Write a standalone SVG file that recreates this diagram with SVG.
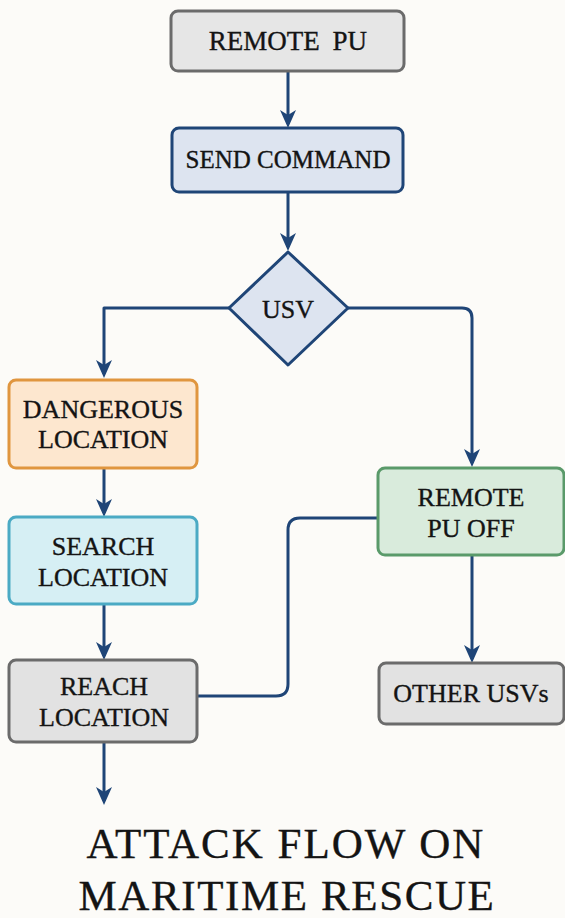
<svg xmlns="http://www.w3.org/2000/svg" width="565" height="918" viewBox="0 0 565 918">
<defs>
<style>
.t{font-family:"Liberation Serif","Times New Roman",serif;font-size:26px;fill:#141414;stroke:#141414;stroke-width:0.35px;text-anchor:middle}
.c{fill:none;stroke:#1f4577;stroke-width:3;stroke-linejoin:round}
.box{stroke-width:3}
</style>
<marker id="ah" markerUnits="userSpaceOnUse" viewBox="-1 -10 20 20" markerWidth="20" markerHeight="20" refX="14" refY="0" orient="auto">
<path d="M0,-8 L18,0 L0,8 L5,0 Z" fill="#1f4577"/>
</marker>
</defs>
<rect width="565" height="918" fill="#fcfbf8"/>
<g id="connectors">
<path class="c" d="M288,72 V124" marker-end="url(#ah)"/>
<path class="c" d="M288,192 V247" marker-end="url(#ah)"/>
<path class="c" d="M229,308 H104 V374" marker-end="url(#ah)"/>
<path class="c" d="M348,308 H462 Q472,308 472,318 V463" marker-end="url(#ah)"/>
<path class="c" d="M104,468 V513" marker-end="url(#ah)"/>
<path class="c" d="M104,604 V656" marker-end="url(#ah)"/>
<path class="c" d="M472,555 V659" marker-end="url(#ah)"/>
<path class="c" d="M104,742 V801" marker-end="url(#ah)"/>
<path class="c" d="M378,518 H300 Q288,518 288,530 V684 Q288,696 276,696 H197"/>
</g>
<g id="remote_pu">
<rect class="box" x="171" y="11" width="233" height="60" rx="7" fill="#e6e6e6" stroke="#6b6b6b"/>
<text class="t" x="288" y="50" style="font-size:27px;word-spacing:6px">REMOTE PU</text>
</g>
<g id="send_command">
<rect class="box" x="172" y="128" width="231" height="64" rx="7" fill="#dde4f0" stroke="#1f4577"/>
<text class="t" x="288" y="168" style="font-size:25px">SEND COMMAND</text>
</g>
<g id="usv">
<polygon points="288,252 348,308 288,365 229,308" fill="#dde4f0" stroke="#1f4577" stroke-width="3" stroke-linejoin="round"/>
<text class="t" x="288" y="318">USV</text>
</g>
<g id="dangerous_location">
<rect class="box" x="9" y="380" width="188" height="88" rx="7" fill="#fde7cf" stroke="#e0963f"/>
<text class="t" x="103" y="418">DANGEROUS</text>
<text class="t" x="103" y="448">LOCATION</text>
</g>
<g id="search_location">
<rect class="box" x="9" y="517" width="188" height="87" rx="7" fill="#d6eff4" stroke="#4baac4"/>
<text class="t" x="103" y="555">SEARCH</text>
<text class="t" x="103" y="586">LOCATION</text>
</g>
<g id="reach_location">
<rect class="box" x="9" y="660" width="188" height="82" rx="7" fill="#e2e2e2" stroke="#6b6b6b"/>
<text class="t" x="104" y="695">REACH</text>
<text class="t" x="104" y="726">LOCATION</text>
</g>
<g id="remote_pu_off">
<rect class="box" x="378" y="468" width="186" height="87" rx="7" fill="#d9ebdc" stroke="#5a9a6a"/>
<text class="t" x="471" y="506">REMOTE</text>
<text class="t" x="471" y="537">PU OFF</text>
</g>
<g id="other_usvs">
<rect class="box" x="379" y="663" width="185" height="61" rx="7" fill="#e2e2e2" stroke="#6b6b6b"/>
<text class="t" x="471" y="702">OTHER USVs</text>
</g>
<g id="title">
<text class="t" x="286" y="858" style="font-size:43px;letter-spacing:2px">ATTACK FLOW ON</text>
<text class="t" x="287" y="910" style="font-size:43px;letter-spacing:1.6px">MARITIME RESCUE</text>
</g>
</svg>
